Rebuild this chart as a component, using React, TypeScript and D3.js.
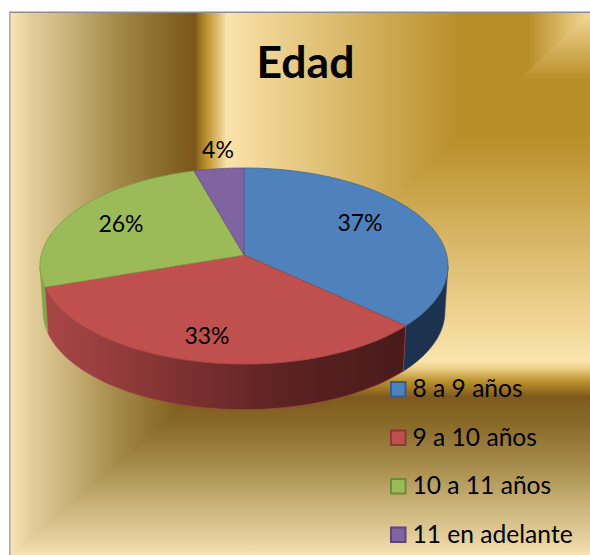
import React from "react";
import * as d3 from "d3";

const title = "Edad";
const categories = ["8 a 9 años", "9 a 10 años", "10 a 11 años", "11 en adelante"];
const percentages = [36.8, 33, 25.8, 4.4];
const percentLabels = ["37%", "33%", "26%", "4%"];
const faceColors = ["#4F81BD", "#C0504D", "#9BBB59", "#8064A2"];
const edgeColors = ["#3F6796", "#9E4340", "#7F9A49", "#674F85"];
const swatchEdges = ["#385D8A", "#8C3836", "#71893F", "#5C4776"];
const labelPositions: [number, number][] = [[360, 222], [207, 335], [121, 223], [218, 149]];

const leftStops: [number, string][] = [[10, "#FBE4B4"], [30, "#E4CE9C"], [67, "#CBB47A"], [117, "#A48A49"], [167, "#876826"], [195, "#7A561A"], [198, "#8F6B20"], [207, "#BE952F"], [216, "#DAB566"], [227, "#FBE3AB"]];
const topStops: [number, string][] = [[225, "#FBE3AB"], [462, "#B88E28"], [528, "#B88E28"], [590, "#F5D998"]];
const rightStops: [number, string][] = [[360, "#FBE3AB"], [134, "#B88E28"], [80, "#B88E28"], [12, "#F5D998"]];
const lowerStops: [number, string][] = [[361, "#FBE3AB"], [368, "#EDD28A"], [382, "#B88E28"], [397, "#7F5A1E"], [421, "#876826"], [463, "#A48A49"], [506, "#CBB47A"], [538, "#E4CE9C"], [555, "#F8E2B2"]];
const wallStops: [number, string][] = [[48, "#A84646"], [120, "#933B3B"], [180, "#7E3131"], [295, "#5A2121"], [402, "#4A1B1B"]];

const W = 590, H = 555;
const Y0 = 255, X0 = 244, A = 202.7, B = 96.8, K = 0.1122, DEPTH = 45.5;
const RIGHT_EXTREME = Math.PI / 2 + Math.asin(K);
const LEFT_EXTREME = 2 * Math.PI - RIGHT_EXTREME;

const projX = d3.scaleLinear().domain([-1, 1]).range([X0 - A, X0 + A]);
const projY = d3.scaleLinear().domain([-1, 1]).range([Y0 + B, Y0 - B]);

function project(theta: number, lower = false): [number, number] {
  const a = Math.sin(theta), b = Math.cos(theta), d = 1 + K * b;
  const x = projX(a / d), y = projY(b / d);
  return lower ? [X0 + (x - X0) * 0.985, y + DEPTH] : [x, y];
}

function arcPoints(start: number, end: number, lower = false): [number, number][] {
  const thetas = d3.range(0, 61).map((i) => start + ((end - start) * i) / 60);
  return thetas.map((t) => project(t, lower));
}

const line = d3.line<[number, number]>().x((d) => d[0]).y((d) => d[1]);
const arcs = d3.pie<number>().sort(null)(percentages);

function Gradient({ id, stops, axis }: { id: string; stops: [number, string][]; axis: "x" | "y" }) {
  const p0 = stops[0][0], p1 = stops[stops.length - 1][0];
  const off = d3.scaleLinear().domain([p0, p1]).range([0, 1]);
  const coords = axis === "x" ? { x1: p0, x2: p1, y1: 0, y2: 0 } : { x1: 0, x2: 0, y1: p0, y2: p1 };
  return (
    <linearGradient id={id} gradientUnits="userSpaceOnUse" {...coords}>
      {stops.map(([p, c], i) => <stop key={i} offset={off(p)} stopColor={c} />)}
    </linearGradient>
  );
}

export default function App() {
  const walls = arcs.map((s, i) => {
    const start = Math.max(s.startAngle, RIGHT_EXTREME);
    const end = Math.min(s.endAngle, LEFT_EXTREME);
    if (end <= start) return null;
    const pts = [...arcPoints(start, end), ...arcPoints(start, end, true).reverse()];
    return (
      <path key={i} d={(line(pts) as string) + "Z"}
        fill={i === 0 ? "#1D324E" : i === 1 ? "url(#wall)" : "#83A64A"}
        stroke={i === 0 ? "#2B4A75" : i === 1 ? "#A34444" : "#83A64A"} strokeWidth={0.6} />
    );
  });
  const faces = arcs.map((s, i) => {
    const pts: [number, number][] = [[X0, Y0], ...arcPoints(s.startAngle, s.endAngle)];
    return <path key={i} d={(line(pts) as string) + "Z"} fill={faceColors[i]} stroke={edgeColors[i]} strokeWidth={0.8} />;
  });
  const font = "Lato, 'Open Sans', sans-serif";
  return (
    <svg width={W} height={H} viewBox={`0 0 ${W} ${H}`} style={{ position: "absolute", left: 0, top: 0, display: "block", background: "#fff" }}>
      <defs>
        <Gradient id="left" stops={leftStops} axis="x" />
        <Gradient id="top" stops={topStops} axis="x" />
        <Gradient id="right" stops={rightStops} axis="y" />
        <Gradient id="lower" stops={lowerStops} axis="y" />
        <Gradient id="wall" stops={wallStops} axis="x" />
      </defs>
      <rect x={225} y={12} width={365} height={350} fill="url(#right)" />
      <polygon points="225,12 590,12 225,360" fill="url(#top)" />
      <rect x={10} y={360} width={580} height={195} fill="url(#lower)" />
      <polygon points="10,12 226,12 226,395 197,395 10,555" fill="url(#left)" />
      <rect x={10} y={11.5} width={580} height={1.5} fill="#8E8E8E" />
      <rect x={9} y={11.5} width={1.6} height={544} fill="#A8A8A8" />
      {walls}
      {faces}
      <text x={305.5} y={78} textAnchor="middle" fontFamily={font} fontWeight={700} fontSize={44.5} fill="#000">{title}</text>
      {percentLabels.map((t, i) => (
        <text key={t} x={labelPositions[i][0]} y={labelPositions[i][1]} textAnchor="middle" dominantBaseline="central" fontFamily={font} fontSize={23} fill="#000">{t}</text>
      ))}
      {categories.map((c, i) => (
        <g key={c}>
          <rect x={391} y={382 + i * 48.5} width={14.5} height={14.5} fill={faceColors[i]} stroke={swatchEdges[i]} strokeWidth={2} />
          <text x={412.5} y={397 + i * 48.6} fontFamily={font} fontSize={24.6} fill="#000">{c}</text>
        </g>
      ))}
    </svg>
  );
}
